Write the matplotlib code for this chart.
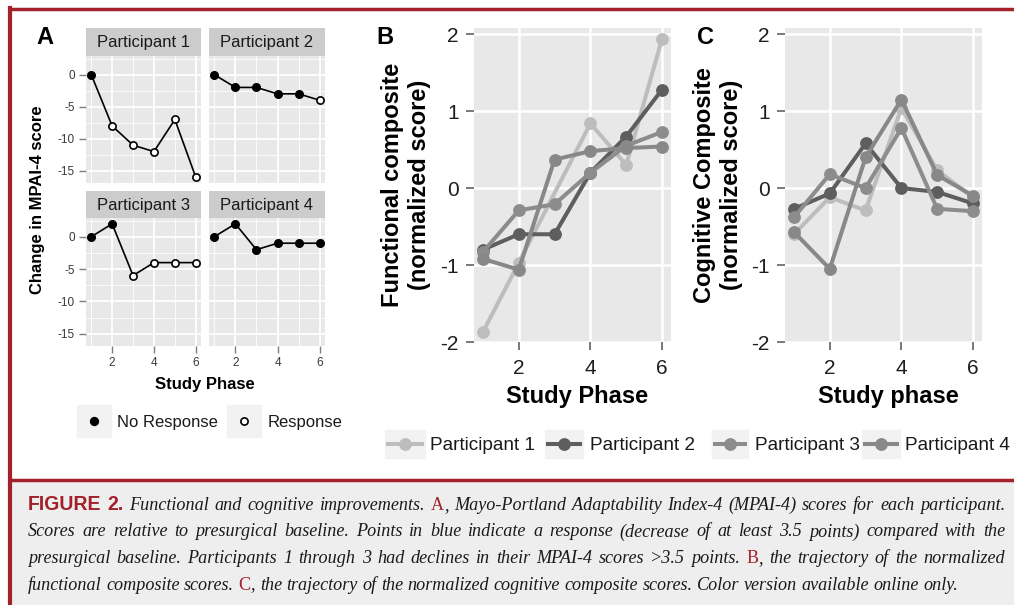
import numpy as np
import matplotlib
matplotlib.use('Agg')
import matplotlib.pyplot as plt
from matplotlib.patches import Rectangle
from matplotlib.lines import Line2D

plt.rcParams['font.family'] = ['Liberation Sans', 'DejaVu Sans']
plt.rcParams['axes.unicode_minus'] = False

phases = [1, 2, 3, 4, 5, 6]
names = ['Participant 1', 'Participant 2', 'Participant 3', 'Participant 4']

# A: change in MPAI-4 score (1 = response)
mpai_p1 = [0, -8, -11, -12, -7, -16]
mpai_p2 = [0, -2, -2, -3, -3, -4]
mpai_p3 = [0, 2, -6, -4, -4, -4]
mpai_p4 = [0, 2, -2, -1, -1, -1]
resp_p1 = [0, 1, 1, 1, 1, 1]
resp_p2 = [0, 0, 0, 0, 0, 1]
resp_p3 = [0, 0, 1, 1, 1, 1]
resp_p4 = [0, 0, 0, 0, 0, 0]

# B: functional composite
func_p1 = [-1.87, -0.97, np.nan, 0.84, 0.30, 1.94]
func_p2 = [-0.80, -0.60, -0.60, 0.20, 0.67, 1.28]
func_p3 = [-0.83, -0.29, -0.21, 0.20, 0.55, 0.73]
func_p4 = [-0.92, -1.06, 0.37, 0.48, 0.52, 0.54]

# C: cognitive composite
cog_p1 = [-0.60, -0.12, -0.29, 1.04, 0.23, -0.12]
cog_p2 = [-0.27, -0.07, 0.58, 0.00, -0.05, -0.20]
cog_p3 = [-0.38, 0.18, 0.00, 0.78, -0.27, -0.30]
cog_p4 = [-0.57, -1.05, 0.40, 1.15, 0.17, -0.10]

grays = ['#BDBDBD', '#5E5E5E', '#8C8C8C', '#888888']
red = '#A3212B'
panel_bg = '#E8E8E8'

W, H = 1014, 605
fig = plt.figure(figsize=(W / 100, H / 100), dpi=100)


def fx(x):
    return x / W


def fy(y):
    return 1 - y / H


def box(x0, y0, x1, y1):
    return [fx(x0), fy(y1), (x1 - x0) / W, (y1 - y0) / H]


# frame and caption background
fig.add_artist(Rectangle((fx(10), 0), 1 - fx(10), fy(480), color='#EEEEEE', zorder=0))
fig.add_artist(Line2D([fx(10), 1], [fy(9), fy(9)], color=red, lw=2.5))
fig.add_artist(Line2D([fx(10), 1], [fy(479.5), fy(479.5)], color=red, lw=2.5))
fig.add_artist(Line2D([fx(10), fx(10)], [0, fy(8)], color=red, lw=3))

# ---------- panel A ----------
facets = [
    (mpai_p1, resp_p1, (86, 56, 201, 183)),
    (mpai_p2, resp_p2, (209, 56, 325, 183)),
    (mpai_p3, resp_p3, (86, 218, 201, 346)),
    (mpai_p4, resp_p4, (209, 218, 325, 346)),
]
for k, (vals, resp, (x0, y0, x1, y1)) in enumerate(facets):
    ax = fig.add_axes(box(x0, y0, x1, y1))
    ax.set_facecolor(panel_bg)
    p = np.array(phases)
    v = np.array(vals)
    r = np.array(resp, bool)
    ax.plot(p, v, color='black', lw=1.2, zorder=3)
    ax.plot(p[~r], v[~r], 'o', ms=5.5, color='black', zorder=4)
    ax.plot(p[r], v[r], 'o', ms=5.2, mfc='white', mec='black', mew=1.2, zorder=4)
    ax.set_xlim(0.75, 6.25)
    ax.set_ylim(-16.9, 2.9)
    ax.set_xticks([2, 4, 6])
    ax.set_yticks([-15, -10, -5, 0])
    ax.set_xticks([1, 3, 5], minor=True)
    ax.set_yticks([-12.5, -7.5, -2.5, 2.5], minor=True)
    ax.grid(which='major', color='white', lw=1.3)
    ax.grid(which='minor', color='white', lw=0.6)
    ax.set_axisbelow(True)
    for s in ax.spines.values():
        s.set_visible(False)
    ax.tick_params(which='minor', length=0)
    ax.tick_params(which='major', length=5, width=1, color='#7F7F7F',
                   labelsize=8.5, labelcolor='#3A3A3A', pad=3)
    if k < 2:
        ax.tick_params(axis='x', length=0, labelbottom=False)
    if k % 2 == 1:
        ax.tick_params(axis='y', length=0, labelleft=False)
    sh = 28 if k < 2 else 27
    st = fig.add_axes(box(x0, y0 - sh, x1, y0))
    st.set_facecolor('#CCCCCC')
    st.set_xticks([])
    st.set_yticks([])
    for s in st.spines.values():
        s.set_visible(False)
    st.text(0.5, 0.47, names[k], ha='center', va='center', fontsize=12,
            color='#1A1A1A', transform=st.transAxes)

fig.text(fx(45), fy(38), 'A', ha='center', va='center', fontsize=17, fontweight='bold')
fig.text(fx(38), fy(200), 'Change in MPAI-4 score', rotation=90, ha='center',
         va='center', fontsize=12, fontweight='bold')
fig.text(fx(205), fy(385), 'Study Phase', ha='center', va='center', fontsize=12,
         fontweight='bold')

# legend A
for (bx0, bx1, tx, label, filled) in [(77, 111, 117, 'No Response', True),
                                      (227, 261, 268, 'Response', False)]:
    fig.add_artist(Rectangle((fx(bx0), fy(437)), (bx1 - bx0) / W, 32 / H,
                             color='#F2F2F2', zorder=1))
    fig.add_artist(Line2D([fx((bx0 + bx1) / 2)], [fy(421)], marker='o', ls='none',
                          ms=5.5 if filled else 5.2,
                          mfc='black' if filled else 'white', mec='black', mew=1.2,
                          zorder=2))
    fig.text(fx(tx), fy(422), label, ha='left', va='center', fontsize=12,
             color='#1A1A1A')

# ---------- panels B and C ----------
panels = [
    ((474, 671), [func_p1, func_p2, func_p3, func_p4], 'B', 385,
     'Functional composite\n(normalized score)', 406, 'Study Phase'),
    ((785, 982), [cog_p1, cog_p2, cog_p3, cog_p4], 'C', 705,
     'Cognitive Composite\n(normalized score)', 718, 'Study phase'),
]
for (x0, x1), series, letter, lx, ylab, ylx, xlab in panels:
    ax = fig.add_axes(box(x0, 28, x1, 342))
    ax.set_facecolor(panel_bg)
    for vals, col in zip(series, grays):
        v = np.array(vals)
        m = ~np.isnan(v)
        ax.plot(np.array(phases)[m], v[m], '-o', color=col, lw=2.9, ms=8.2, zorder=3)
    ax.set_xlim(0.75, 6.25)
    ax.set_ylim(-2.0, 2.08)
    ax.set_xticks([2, 4, 6])
    ax.set_yticks([-2, -1, 0, 1, 2])
    ax.grid(color='white', lw=1.8)
    ax.set_axisbelow(True)
    for s in ax.spines.values():
        s.set_visible(False)
    ax.tick_params(length=6, width=1.3, color='#6E6E6E', labelsize=15,
                   labelcolor='#1F1F1F')
    ax.tick_params(axis='x', pad=6)
    ax.tick_params(axis='y', pad=5)
    fig.text(fx(lx), fy(37), letter, ha='center', va='center', fontsize=17,
             fontweight='bold')
    fig.text(fx(ylx), fy(185), ylab, rotation=90, ha='center', va='center',
             fontsize=17, fontweight='bold', linespacing=1.2)
    fig.text(fx((x0 + x1) / 2 + 5), fy(397), xlab, ha='center', va='center',
             fontsize=17, fontweight='bold')

# legend B/C
for (bx0, bx1, tx), label, col in zip([(385, 425, 430), (545, 583, 590),
                                       (712, 748, 755), (862, 900, 905)],
                                      names, grays):
    fig.add_artist(Rectangle((fx(bx0), fy(458)), (bx1 - bx0) / W, 28 / H,
                             color='#F2F2F2', zorder=1))
    fig.add_artist(Line2D([fx(bx0 + 3), fx(bx1 - 3)], [fy(444), fy(444)],
                          color=col, lw=2.9, zorder=2))
    fig.add_artist(Line2D([fx((bx0 + bx1) / 2)], [fy(444)], marker='o', ls='none',
                          ms=8.2, color=col, zorder=3))
    fig.text(fx(tx), fy(445), label, ha='left', va='center', fontsize=13.7,
             color='#1A1A1A')

# ---------- caption ----------
caption = [
    [('FIGURE 2.', 'head'), ('  Functional and cognitive improvements. ', 'it'), ('A', 'red'),
     (', Mayo-Portland Adaptability Index-4 (MPAI-4) scores for each participant.', 'it')],
    [('Scores are relative to presurgical baseline. Points in blue indicate a response '
      '(decrease of at least 3.5 points) compared with the', 'it')],
    [('presurgical baseline. Participants 1 through 3 had declines in their MPAI-4 scores '
      '>3.5 points. ', 'it'), ('B', 'red'), (', the trajectory of the normalized', 'it')],
    [('functional composite scores. ', 'it'), ('C', 'red'),
     (', the trajectory of the normalized cognitive composite scores. '
      'Color version available online only.', 'it')],
]
baselines = [510, 536.5, 563, 589.5]
justify = [True, True, True, False]
cap_x0, cap_x1 = 28, 1005

renderer = fig.canvas.get_renderer()


def style(kind, fs):
    if kind == 'head':
        return dict(family=['Liberation Sans Narrow', 'Liberation Sans'],
                    fontweight='bold', color=red, fontsize=fs * 1.08)
    if kind == 'red':
        return dict(family=['Liberation Serif'], color=red, fontsize=fs)
    return dict(family=['Liberation Serif'], style='italic', color='#1A1A1A', fontsize=fs)


def width(s, kind, fs):
    t = fig.text(0, 0, s, **style(kind, fs))
    w = t.get_window_extent(renderer).width
    t.remove()
    return w


def tokens_of(segs):
    toks = []
    pending = False
    for text, kind in segs:
        parts = text.split(' ')
        for i, p in enumerate(parts):
            if i > 0:
                pending = True
            if p:
                toks.append((p, kind, pending and bool(toks)))
                pending = False
    return toks


# pick the caption size so the longest line fits
base = 10
sp0 = width('a a', 'it', base) - width('aa', 'it', base)
nat = 0
for segs in caption[:3]:
    toks = tokens_of(segs)
    w = sum(width(p, k, base) for p, k, _ in toks) + sp0 * sum(g for _, _, g in toks)
    nat = max(nat, w)
fs = base * (cap_x1 - cap_x0) * 0.985 / nat
sp = width('a a', 'it', fs) - width('aa', 'it', fs)

for segs, yb, just in zip(caption, baselines, justify):
    toks = tokens_of(segs)
    arts = []
    for p, k, g in toks:
        t = fig.text(0, fy(yb), p, va='baseline', ha='left', **style(k, fs))
        arts.append((t, t.get_window_extent(renderer).width, g))
    ngap = sum(g for _, _, g in arts)
    total = sum(w for _, w, _ in arts)
    gap = (cap_x1 - cap_x0 - total) / ngap if just else sp
    x = cap_x0
    for t, w, g in arts:
        if g:
            x += gap
        t.set_x(fx(x))
        x += w

fig.savefig('out.png', dpi=100)
